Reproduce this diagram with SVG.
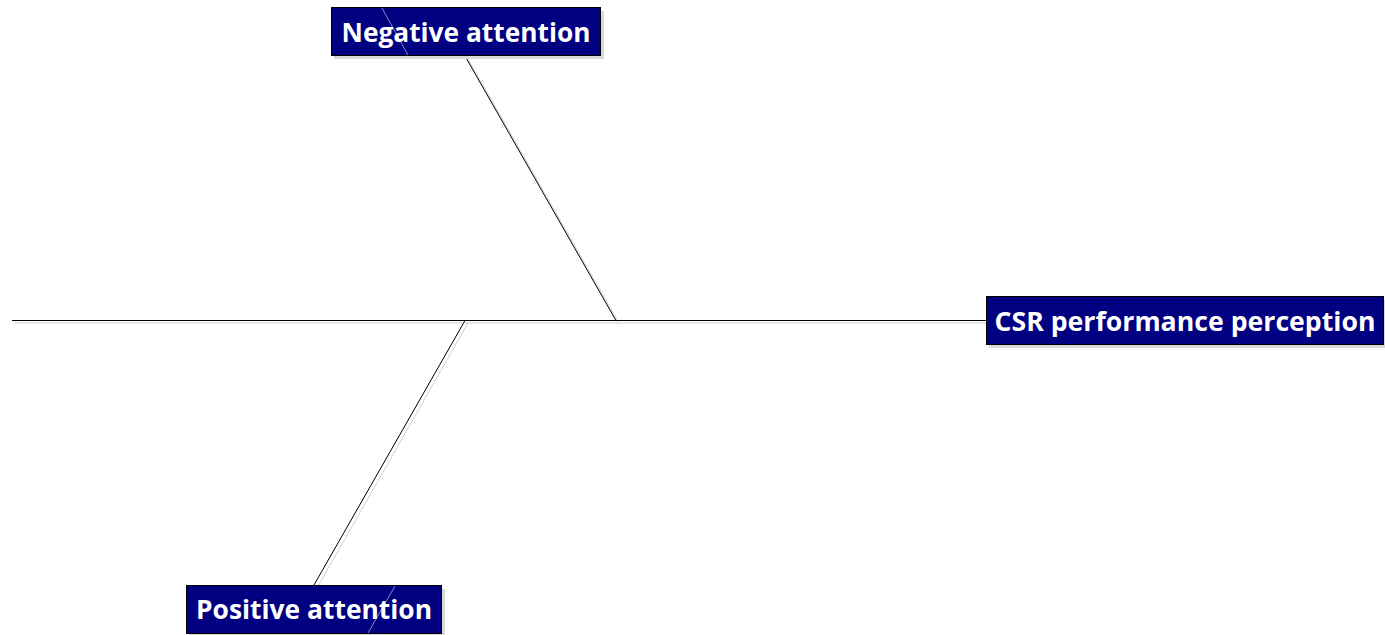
<svg xmlns="http://www.w3.org/2000/svg" width="1385" height="635" viewBox="0 0 1385 635">
<style>
.box{fill:#000080;stroke:#000000;stroke-width:1}
.shadow{fill:#d9d9d9}
.lbl{fill:#ffffff;font-family:"Open Sans","Noto Sans",sans-serif;font-weight:bold;font-size:27px}
.ln{stroke:#000000;stroke-width:1;fill:none}
.sh{stroke:#d0d0d0;stroke-width:1;fill:none}
.in{stroke:#8a8ac0;stroke-width:1;fill:none}
</style>
<rect width="1385" height="635" fill="#ffffff"/>
<g id="connectors">
<line class="sh" x1="15" y1="323" x2="986" y2="323"/>
<line class="sh" x1="468" y1="59" x2="619" y2="323"/>
<line class="sh" x1="468" y1="323" x2="317" y2="588"/>
<line class="ln" x1="12" y1="320.5" x2="986" y2="320.5"/>
<line class="ln" x1="465" y1="56" x2="616" y2="320.5"/>
<line class="ln" x1="465" y1="320.5" x2="314" y2="585"/>
</g>
<g id="negative">
<rect class="shadow" x="334" y="11" width="270" height="48"/>
<rect class="box" x="331.5" y="7.5" width="269" height="48"/>
<line class="in" x1="382" y1="8" x2="408" y2="55"/>
<text class="lbl" x="466" y="42" text-anchor="middle" textLength="249" lengthAdjust="spacingAndGlyphs">Negative attention</text>
</g>
<g id="csr">
<rect class="shadow" x="989" y="300" width="396" height="48"/>
<rect class="box" x="986.5" y="296.5" width="397" height="48"/>
<text class="lbl" x="1185" y="331" text-anchor="middle" textLength="381" lengthAdjust="spacingAndGlyphs">CSR performance perception</text>
</g>
<g id="positive">
<rect class="shadow" x="189" y="589" width="256" height="46"/>
<rect class="box" x="186.5" y="585.5" width="255" height="48"/>
<line class="in" x1="395" y1="586" x2="368" y2="633"/>
<text class="lbl" x="314" y="619" text-anchor="middle" textLength="236" lengthAdjust="spacingAndGlyphs">Positive attention</text>
</g>
</svg>
